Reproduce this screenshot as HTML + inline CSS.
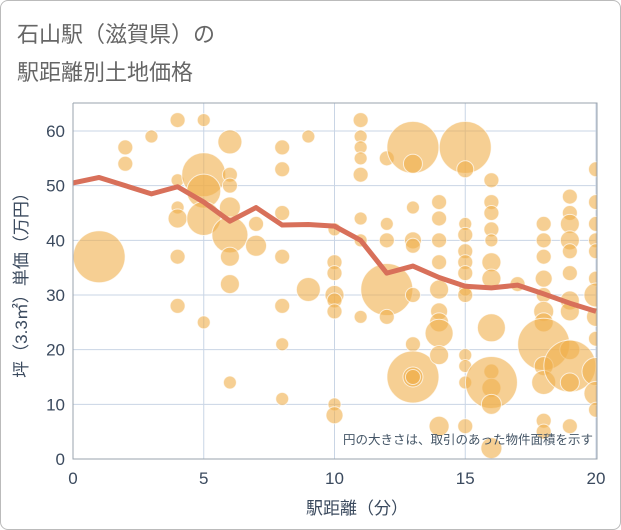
<!DOCTYPE html>
<html><head><meta charset="utf-8"><style>
body{margin:0;background:#fff;}
#wrap{position:relative;width:619px;height:528px;border:1px solid #bbb;border-radius:8px;overflow:hidden;font-family:"Liberation Sans","Noto Sans CJK JP",sans-serif;}
.t{position:absolute;left:16px;font-size:22px;color:#666;}
</style></head><body>
<div id="wrap">
<div class="t" style="top:16px">石山駅（滋賀県）の</div>
<div class="t" style="top:54px">駅距離別土地価格</div>
<svg id="c" width="621" height="530" style="position:absolute;left:-1px;top:-1px"></svg>
</div>
<script>
const xTicks=[0,5,10,15,20];
const yTicks=[0,10,20,30,40,50,60];
const lineX=[0,1,3,4,5,6,7,8,9,10,11,12,13,14,15,16,17,18,19,20];
const lineY=[50.5,51.5,48.5,49.8,47,43.5,46,42.8,42.9,42.6,40,34,35.3,33.2,31.6,31.3,31.8,30.2,28.5,27];
const bubX=[1,2,2,3,4,4,4,4,4,4,5,5,5,5,5,6,6,6,6,6,6,6,6,7,7,8,8,8,8,8,8,8,9,9,10,10,10,10,10,10,10,10,11,11,11,11,11,11,11,11,12,12,12,12,12,13,13,13,13,13,13,13,13,13,13,14,14,14,14,14,14,14,14,14,14,15,15,15,15,15,15,15,15,15,15,15,15,15,16,16,16,16,16,16,16,16,16,16,16,16,16,17,18,18,18,18,18,18,18,18,18,18,18,18,19,19,19,19,19,19,19,19,19,19,19,19,20,20,20,20,20,20,20,20,20,20,20,20];
const bubY=[37,57,54,59,62,51,46,44,37,28,62,52,49,44,25,58,52,50,46,41,37,32,14,43,39,57,53,45,37,28,21,11,59,31,36,34,30,29,27,10,8,42,62,59,57,55,52,44,40,26,55,43,40,31,26,57,54,46,40,39,30,21,15,15,15,47,44,40,36,31,27,25,23,19,6,57,53,43,41,38,36,34,31,30,19,17,14,6,51,47,45,42,40,36,33,24,16,13,14,10,2,32,43,40,37,33,30,27,25,21,17,14,7,5,48,45,43,40,38,34,29,27,20,17,14,6,53,47,43,40,38,33,30,26,22,16,12,9];
const bubR=[26,6,6,5,6,5,5,8,6,6,5,22,17,17,5,12,6,6,9,18,8,8,5,6,9,6,6,6,6,6,5,5,5,12,6,6,8,6,6,5,7,5,6,5,5,5,6,5,5,5,6,5,6,26,6,26,8,5,7,6,6,6,26,10,6,6,6,6,6,8,7,8,14,8,10,26,7,5,6,6,6,6,5,6,5,5,5,6,6,6,6,6,5,8,8,14,6,8,26,10,9,6,6,6,6,7,6,10,8,26,8,12,6,6,6,6,8,8,6,6,8,8,10,26,8,6,6,6,6,6,6,6,12,8,6,14,12,6];
const L=73,R=596,T=103,B=459;
const sx=v=>L+(R-L)*v/20, sy=v=>B-(B-131)*v/60;
const NS='http://www.w3.org/2000/svg', svg=document.getElementById('c');
function mk(t,a,p){const e=document.createElementNS(NS,t);for(const k in a)e.setAttribute(k,a[k]);(p||svg).appendChild(e);return e;}
const defs=mk('defs',{});const cp=mk('clipPath',{id:'clip'},defs);mk('rect',{x:L,y:T,width:R-L+1,height:B-T},cp);
yTicks.forEach(v=>{const g=mk('line',{x1:L,x2:R,y1:sy(v),y2:sy(v),stroke:'#c9d5e5','stroke-width':1});

const t=mk('text',{x:L-8,y:sy(v)+6,'text-anchor':'end','font-size':17,fill:'#3b4a5e'});t.textContent=v;
});
xTicks.forEach(v=>{const g=mk('line',{x1:sx(v),x2:sx(v),y1:T,y2:B,stroke:'#c9d5e5','stroke-width':1});

const t=mk('text',{x:sx(v),y:B+25,'text-anchor':'middle','font-size':17,fill:'#3b4a5e'});t.textContent=v;
});
const gb=mk('g',{'clip-path':'url(#clip)'});

bubX.forEach((x,i)=>{const r=bubR[i]<10?bubR[i]+1.5:bubR[i];const c=mk('circle',{cx:sx(x),cy:sy(bubY[i]),r:r,fill:'rgba(240,175,75,0.6)',stroke:'rgba(255,255,255,0.7)','stroke-width':1},gb);
});
const pl=mk('polyline',{points:lineX.map((x,i)=>sx(x)+','+sy(lineY[i])).join(' '),fill:'none',stroke:'#d8705a','stroke-width':5,'stroke-linejoin':'round','clip-path':'url(#clip)'});

const ax=mk('path',{d:`M${L},${T}V${B}H${R+1}V${T}H${L}`,fill:'none',stroke:'#9aa3ad','stroke-width':1});

const note=mk('text',{x:593,y:444,'text-anchor':'end','font-size':12.5,fill:'#445566'});note.textContent='円の大きさは、取引のあった物件面積を示す';

const xt=mk('text',{x:357,y:514,'text-anchor':'middle','font-size':17,fill:'#3b4a5e'});xt.textContent='駅距離（分）';

const yt=mk('text',{x:0,y:0,'text-anchor':'middle','font-size':17,fill:'#3b4a5e',transform:'translate(27,281) rotate(-90)'});yt.textContent='坪（3.3㎡）単価（万円）';

</script>
</body></html>
